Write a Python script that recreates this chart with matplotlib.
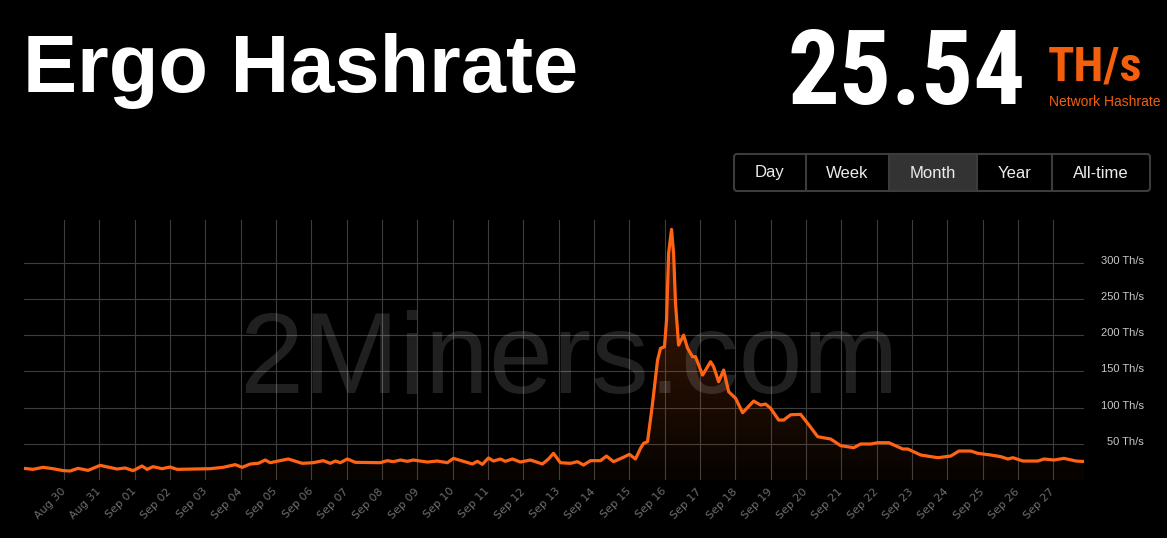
import numpy as np
import pandas as pd
import matplotlib
matplotlib.use("Agg")
import matplotlib.pyplot as plt
import matplotlib.dates as mdates
from matplotlib.patches import FancyBboxPatch, Rectangle
from matplotlib.transforms import ScaledTranslation

# ---------------- data ----------------
title = "Ergo Hashrate"
current_value = "25.54"
current_unit = "TH/s"
current_caption = "Network Hashrate"
buttons = ["Day", "Week", "Month", "Year", "All-time"]
active_button = "Month"
watermark = "2Miners.com"

start_date = "2023-08-30"
# hours since start_date
hours = [-27.2, -21.1, -14.3, -7.5, -0.7, 4.1, 9.5, 16.3, 24.5, 36.0,
         41.5, 46.9, 53.0, 56.4, 60.5, 66.6, 72.0, 76.8, 87.7, 99.3,
         108.1, 116.3, 121.0, 126.5, 131.9, 136.7, 140.0, 145.5, 152.3, 161.8,
         169.3, 176.1, 180.9, 184.3, 187.7, 192.4, 197.9, 214.8, 219.6, 223.7,
         228.5, 233.2, 237.3, 246.8, 253.6, 260.4, 264.5, 270.6, 277.4, 280.8,
         284.2, 288.3, 291.7, 296.5, 299.8, 304.6, 310.0, 316.8, 325.0, 329.1,
         332.5, 337.2, 344.0, 348.8, 352.9, 357.6, 364.4, 368.5, 373.3, 379.4,
         384.1, 388.2, 391.6, 393.7, 396.4, 399.8, 403.2, 405.2, 407.9, 409.3,
         410.7, 412.7, 414.1, 415.4, 417.5, 420.9, 423.6, 427.0, 429.0, 433.8,
         439.2, 441.3, 444.7, 448.1, 451.5, 456.2, 461.0, 468.5, 473.2, 476.6,
         480.0, 485.5, 488.9, 493.6, 500.4, 505.2, 512.0, 520.8, 527.6, 536.5,
         541.2, 548.0, 552.8, 560.3, 569.8, 573.2, 582.0, 593.6, 602.4, 607.9,
         616.0, 620.8, 629.6, 636.4, 641.2, 644.6, 651.4, 661.6, 665.7, 672.5,
         679.3, 687.4, 692.9]
# hashrate, TH/s
hashrate = [16.1, 14.7, 17.5, 15.6, 13.0, 12.4, 16.1, 13.3, 20.2, 15.2,
            16.6, 12.9, 19.3, 14.7, 18.4, 15.6, 17.9, 14.7, 15.2, 15.6,
            17.5, 21.2, 17.5, 22.1, 23.0, 27.6, 23.9, 26.2, 29.0, 23.0,
            23.9, 26.7, 23.0, 26.2, 23.9, 29.0, 24.4, 23.9, 26.7, 25.3,
            27.6, 25.8, 27.6, 24.8, 26.2, 23.9, 29.9, 26.2, 22.1, 25.8,
            21.6, 30.4, 26.2, 29.0, 25.8, 29.0, 24.8, 27.6, 22.1, 29.0,
            36.8, 23.9, 23.0, 25.3, 20.7, 26.7, 26.7, 33.1, 25.3, 30.8,
            35.4, 29.0, 43.7, 50.6, 52.9, 105.8, 165.6, 181.8, 184.0, 220.8,
            312.9, 346.0, 312.9, 243.9, 186.3, 200.0, 181.8, 170.2, 170.2, 144.9,
            163.3, 156.4, 135.7, 151.8, 121.9, 112.8, 92.9, 109.0, 103.5, 104.9,
            99.0, 82.8, 82.8, 90.1, 90.6, 78.2, 59.8, 56.6, 47.4, 44.6,
            49.7, 49.7, 51.5, 51.5, 42.8, 42.8, 34.5, 30.8, 33.1, 40.0,
            40.0, 36.8, 34.5, 32.2, 29.0, 30.8, 26.2, 26.2, 29.0, 27.6,
            29.9, 26.2, 25.54]

tick_dates = ["2023-08-30", "2023-08-31", "2023-09-01", "2023-09-02", "2023-09-03",
              "2023-09-04", "2023-09-05", "2023-09-06", "2023-09-07", "2023-09-08",
              "2023-09-09", "2023-09-10", "2023-09-11", "2023-09-12", "2023-09-13",
              "2023-09-14", "2023-09-15", "2023-09-16", "2023-09-17", "2023-09-18",
              "2023-09-19", "2023-09-20", "2023-09-21", "2023-09-22", "2023-09-23",
              "2023-09-24", "2023-09-25", "2023-09-26", "2023-09-27"]
tick_labels = ["Aug 30", "Aug 31", "Sep 01", "Sep 02", "Sep 03", "Sep 04", "Sep 05",
               "Sep 06", "Sep 07", "Sep 08", "Sep 09", "Sep 10", "Sep 11", "Sep 12",
               "Sep 13", "Sep 14", "Sep 15", "Sep 16", "Sep 17", "Sep 18", "Sep 19",
               "Sep 20", "Sep 21", "Sep 22", "Sep 23", "Sep 24", "Sep 25", "Sep 26",
               "Sep 27"]
y_ticks = [50, 100, 150, 200, 250, 300]
y_tick_labels = ["50 Th/s", "100 Th/s", "150 Th/s", "200 Th/s", "250 Th/s", "300 Th/s"]

# ---------------- style ----------------
ORANGE = "#ff6414"
TEXT_ORANGE = "#f45f0e"
W, H = 1167, 538
fig = plt.figure(figsize=(W / 100, H / 100), dpi=100, facecolor="black")

ax = fig.add_axes([24 / W, 1 - 480 / H, (1084 - 24) / W, (480 - 220) / H])
ax.set_facecolor("black")

times = pd.Timestamp(start_date) + pd.to_timedelta(hours, unit="h")
xnum = mdates.date2num(times.to_pydatetime())

# gradient fill under the line
poly = ax.fill_between(xnum, hashrate, 0, color="none", lw=0)
grad = np.zeros((256, 1, 4))
rgb = matplotlib.colors.to_rgb(ORANGE)
grad[:, 0, 0], grad[:, 0, 1], grad[:, 0, 2] = rgb
grad[:, 0, 3] = np.linspace(0.30, 0.03, 256)
im = ax.imshow(grad, extent=[0, 1, 0, 1], transform=ax.transAxes,
               aspect="auto", zorder=1, interpolation="bilinear")
im.set_clip_path(poly.get_paths()[0], transform=ax.transData)

ax.plot(xnum, hashrate, color=ORANGE, lw=2.3, solid_joinstyle="round",
        solid_capstyle="round", zorder=4)

# watermark
ax.text(569 / W, 1 - 393 / H, watermark, transform=fig.transFigure,
        ha="center", va="baseline", fontsize=83, color="white", alpha=0.13,
        family="Liberation Sans", zorder=2)

ax.set_xlim(xnum[0], xnum[-1])
ax.set_ylim(0, 359)

tick_num = mdates.date2num(pd.to_datetime(tick_dates).to_pydatetime())
ax.set_xticks(tick_num)
ax.set_xticklabels(tick_labels, rotation=45, ha="right", va="center",
                   rotation_mode="anchor", fontsize=8, color="#6e6e6e",
                   family="DejaVu Sans")
ax.tick_params(axis="x", length=0, pad=7)

ax.yaxis.tick_right()
ax.set_yticks(y_ticks)
ax.set_yticklabels(y_tick_labels, fontsize=8, color="#c8c8c8",
                   family="Liberation Sans", ha="right", va="center")
ax.tick_params(axis="y", length=0, pad=43)
shift = ScaledTranslation(0, 2 / 100, fig.dpi_scale_trans)
for lab in ax.get_yticklabels():
    lab.set_transform(lab.get_transform() + shift)

ax.grid(True, color="#3d3d3d", lw=0.8)
ax.set_axisbelow(True)
for s in ax.spines.values():
    s.set_visible(False)

# ---------------- header overlay (pixel coords) ----------------
ov = fig.add_axes([0, 0, 1, 1], zorder=10)
ov.set_xlim(0, W)
ov.set_ylim(H, 0)
ov.axis("off")
ov.patch.set_alpha(0)

ov.text(23, 92, title, color="white", fontsize=58.5, fontweight="bold",
        family="Liberation Sans", ha="left", va="baseline")

cond = ["Roboto Condensed", "Liberation Sans Narrow", "DejaVu Sans"]
ov.text(1026, 104, current_value, color="white", fontsize=74, fontweight="bold",
        family=cond, fontstretch="condensed", ha="right", va="baseline")
ov.text(1048, 81, current_unit, color=TEXT_ORANGE, fontsize=35, fontweight="bold",
        family=cond, fontstretch="condensed", ha="left", va="baseline")
ov.text(1049, 102, current_caption, color=TEXT_ORANGE, fontsize=10,
        family="Liberation Sans", ha="left", va="center")

# buttons
edges = [734, 806, 889, 977, 1052, 1150]
btop, bbot = 154, 191
for i, lab in enumerate(buttons):
    x0, x1 = edges[i], edges[i + 1]
    if lab == active_button:
        ov.add_patch(Rectangle((x0, btop), x1 - x0, bbot - btop,
                               fc="#333333", ec="none"))
    ov.text((x0 + x1) / 2, (btop + bbot) / 2 + 0.5, lab, color="#ececec",
            fontsize=12, family="Liberation Sans", ha="center", va="center")
for xe in edges[1:-1]:
    ov.plot([xe, xe], [btop, bbot], color="#3c3c3c", lw=1.5)
ov.add_patch(FancyBboxPatch((734, btop), 1150 - 734, bbot - btop,
                            boxstyle="round,pad=0,rounding_size=3",
                            fc="none", ec="#3c3c3c", lw=1.5))

fig.savefig("out.png", dpi=100, facecolor="black")
